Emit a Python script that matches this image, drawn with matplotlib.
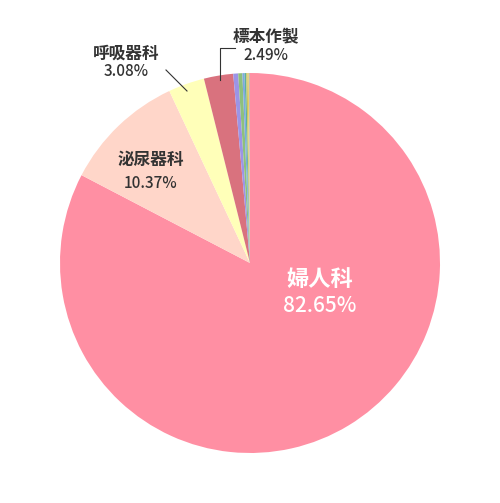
import matplotlib
matplotlib.use("Agg")
import matplotlib.pyplot as plt

plt.rcParams['font.family'] = ['Noto Sans CJK JP', 'DejaVu Sans']

departments = ["婦人科", "泌尿器科", "呼吸器科", "標本作製", "a", "b", "c", "d", "e", "f", "g"]
shares = [82.65, 10.37, 3.08, 2.49, 0.42, 0.35, 0.18, 0.14, 0.12, 0.10, 0.10]
colors = ["#FF8FA3", "#FFD6C9", "#FFFFB9", "#D9727E", "#9C94E6", "#8EC07C",
          "#7FA8E0", "#5DB0A0", "#C9C060", "#E8D060", "#C8B8B8"]

W, H = 500, 503
fig = plt.figure(figsize=(W / 100, H / 100), dpi=100)
ax = fig.add_axes([0, 0, 1, 1])

cx, cy, r = 250, H - 263, 190
ax.pie(shares, colors=colors, startangle=90, counterclock=False,
       center=(cx, cy), radius=r, frame=True,
       wedgeprops=dict(linewidth=0))
ax.set_xlim(0, W)
ax.set_ylim(0, H)
ax.set_aspect("equal")
ax.axis("off")

dark = "#333333"
# inside labels
ax.text(320, H - 279, departments[0], ha="center", va="center",
        fontsize=16, color="white", fontweight="bold")
ax.text(320, H - 306, f"{shares[0]:.2f}%", ha="center", va="center",
        fontsize=15, color="white", fontweight="medium")
ax.text(151, H - 160, departments[1], ha="center", va="center",
        fontsize=12, color=dark, fontweight="bold")
ax.text(151, H - 183, f"{shares[1]:.2f}%", ha="center", va="center",
        fontsize=11, color=dark, fontweight="medium")

# outside labels with leader lines
ax.text(126, H - 54, departments[2], ha="center", va="center",
        fontsize=12, color=dark, fontweight="bold")
ax.text(126, H - 71, f"{shares[2]:.2f}%", ha="center", va="center",
        fontsize=11, color=dark, fontweight="medium")
ax.plot([166, 187], [H - 70, H - 91], color=dark, lw=0.8)

ax.text(266, H - 37, departments[3], ha="center", va="center",
        fontsize=12, color=dark, fontweight="bold")
ax.text(266, H - 55, f"{shares[3]:.2f}%", ha="center", va="center",
        fontsize=11, color=dark, fontweight="medium")
ax.plot([235, 220, 220], [H - 48, H - 48, H - 80], color=dark, lw=0.8)

fig.savefig("out.png", dpi=100, facecolor="white")
